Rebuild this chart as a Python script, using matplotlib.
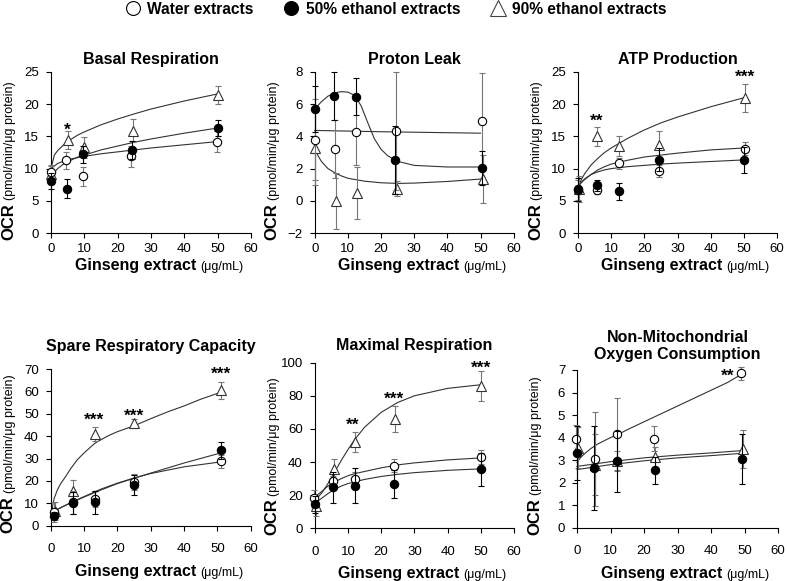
import matplotlib
matplotlib.use("Agg")
import matplotlib.pyplot as plt
from matplotlib.lines import Line2D

plt.rcParams["font.family"] = ["Liberation Sans", "DejaVu Sans"]

# ---- Basal Respiration ----
basal_water_x = [0, 4.6, 9.6, 24.1, 49.9]
basal_water_y = [9.4, 11.3, 8.8, 11.9, 14.2]
basal_water_err = [1.0, 1.3, 1.5, 1.6, 1.6]
basal_eth50_x = [0, 4.8, 9.6, 24.3, 50]
basal_eth50_y = [8.1, 6.9, 12.2, 12.9, 16.3]
basal_eth50_err = [1.2, 1.5, 1.3, 1.4, 1.3]
basal_eth90_x = [0, 5, 9.8, 24.5, 50]
basal_eth90_y = [9.1, 14.4, 13.3, 15.9, 21.5]
basal_eth90_err = [1.4, 1.4, 1.6, 1.8, 1.4]
basal_fit_x = [0, 1, 2, 4, 6, 8, 10, 15, 20, 25, 30, 40, 50]
basal_fit_water = [10.0, 10.4, 10.8, 11.2, 11.5, 11.7, 11.9, 12.3, 12.6, 12.9, 13.2, 13.7, 14.2]
basal_fit_eth50 = [8.5, 9.4, 10.0, 10.8, 11.3, 11.8, 12.1, 12.9, 13.5, 14.1, 14.6, 15.5, 16.3]
basal_fit_eth90 = [10.0, 12.1, 12.8, 13.8, 14.55, 15.2, 15.7, 16.8, 17.7, 18.5, 19.25, 20.5, 21.6]

# ---- Proton Leak ----
leak_water_x = [0, 6, 12.6, 24.5, 50.5]
leak_water_y = [3.8, 3.2, 4.3, 4.35, 4.95]
leak_water_err = [2.5, 1.8, 2.1, 3.65, 3.0]
leak_eth50_x = [0, 5.7, 12.6, 24.3, 50.5]
leak_eth50_y = [5.7, 6.5, 6.45, 2.55, 2.05]
leak_eth50_err = [1.4, 1.5, 1.15, 2.1, 1.05]
leak_eth90_x = [0, 6.3, 12.8, 24.8, 50.8]
leak_eth90_y = [3.3, 0.0, 0.5, 0.75, 1.35]
leak_eth90_err = [2.3, 1.75, 1.6, 0.45, 1.5]
leak_fit_water_x = [0, 10, 20, 30, 40, 50]
leak_fit_water = [4.37, 4.33, 4.29, 4.26, 4.23, 4.2]
leak_fit_eth50_x = [0, 2, 4, 6, 8, 10, 12, 14, 16, 18, 20, 22, 25, 30, 40, 50]
leak_fit_eth50 = [5.7, 6.15, 6.5, 6.7, 6.78, 6.75, 6.55, 5.9, 4.85, 3.85, 3.2, 2.8, 2.45, 2.2, 2.1, 2.1]
leak_fit_eth90_x = [0, 1, 2, 4, 6, 8, 10, 15, 20, 25, 30, 40, 50]
leak_fit_eth90 = [3.3, 2.8, 2.45, 2.0, 1.75, 1.55, 1.4, 1.22, 1.12, 1.08, 1.1, 1.2, 1.35]

# ---- ATP Production ----
atp_water_x = [0, 5.8, 12.5, 24.5, 50.5]
atp_water_y = [6.7, 6.6, 10.8, 9.6, 13.1]
atp_water_err = [1.5, 0.5, 0.9, 0.9, 1.0]
atp_eth50_x = [0, 5.8, 12.4, 24.3, 50.2]
atp_eth50_y = [6.8, 7.4, 6.5, 11.4, 11.3]
atp_eth50_err = [1.8, 0.9, 1.3, 1.8, 2.0]
atp_eth90_x = [0.3, 5.8, 12.5, 24.5, 50.5]
atp_eth90_y = [6.8, 15.0, 13.5, 13.6, 21.0]
atp_eth90_err = [2.0, 1.5, 1.6, 2.2, 2.2]
atp_fit_x = [0, 1, 2, 4, 6, 8, 10, 15, 20, 25, 30, 40, 50]
atp_fit_water = [7.2, 7.8, 8.3, 9.1, 9.8, 10.3, 10.7, 11.3, 11.8, 12.1, 12.4, 12.9, 13.2]
atp_fit_eth50 = [7.3, 7.9, 8.4, 9.1, 9.5, 9.8, 10.0, 10.3, 10.5, 10.7, 10.85, 11.1, 11.35]
atp_fit_eth90 = [7.0, 8.3, 9.2, 10.6, 11.6, 12.5, 13.2, 14.7, 16.0, 17.1, 18.0, 19.6, 21.0]

# ---- Spare Respiratory Capacity ----
spare_water_x = [1, 6.8, 13.3, 25, 51]
spare_water_y = [6.0, 10.4, 11.8, 19.6, 28.8]
spare_water_err = [4.5, 5.0, 3.5, 3.5, 3.0]
spare_eth50_x = [1, 6.8, 13.3, 25, 51]
spare_eth50_y = [4.5, 10.2, 10.4, 18.1, 33.6]
spare_eth50_err = [1.5, 4.8, 5.0, 4.5, 4.0]
spare_eth90_x = [1.3, 6.8, 13.3, 25, 51]
spare_eth90_y = [6.5, 15.7, 40.9, 45.8, 60.4]
spare_eth90_err = [4.0, 4.5, 3.0, 2.0, 4.0]
spare_fit_x = [1, 4, 7, 10, 15, 20, 25, 30, 40, 51]
spare_fit_water = [6.5, 8.8, 11.0, 13.0, 16.3, 19.0, 21.3, 23.3, 26.3, 28.5]
spare_fit_eth50 = [6.5, 8.8, 10.8, 12.8, 15.9, 18.8, 21.2, 23.5, 28.0, 32.5]
spare_fit_eth90_x = [0.3, 0.6, 1, 2, 3, 4.5, 6, 8, 10, 13.3, 17, 20, 25, 30, 35, 40, 45, 51]
spare_fit_eth90 = [5.7, 9.0, 12.0, 16.0, 18.8, 22.0, 25.5, 29.5, 32.5, 36.9, 40.0, 42.0,
                   44.6, 47.8, 50.8, 53.5, 56.5, 59.6]

# ---- Maximal Respiration ----
max_water_x = [-0.3, 5.5, 12, 24, 50]
max_water_y = [18.1, 28.8, 30.0, 37.8, 43.0]
max_water_err = [5, 3, 4, 4, 4]
max_eth50_x = [0, 5.5, 12, 24, 50]
max_eth50_y = [14.5, 24.7, 25.8, 26.8, 35.6]
max_eth50_err = [5, 9.5, 10.5, 8.7, 10]
max_eth90_x = [0.5, 5.7, 12.2, 24.2, 50]
max_eth90_y = [13.7, 35.6, 52.3, 66, 86.1]
max_eth90_err = [6, 6.5, 6, 8, 9]
max_fit_x = [0, 2, 4, 6, 8, 10, 12, 15, 20, 25, 30, 40, 50]
max_fit_water = [19, 22, 25.5, 28, 30, 31.7, 33, 34.3, 36.5, 38.3, 39.5, 41.3, 42.5]
max_fit_eth50 = [15, 18, 21, 23.5, 25.5, 27, 28, 29.5, 31.3, 32.6, 33.6, 35, 35.9]
max_fit_eth90 = [17, 21, 27, 34, 41, 47.5, 53.5, 61, 70, 76, 80, 84.5, 86.7]

# ---- Non-Mitochondrial Oxygen Consumption ----
nonmito_water_x = [-0.3, 5.4, 11.8, 23, 49]
nonmito_water_y = [3.95, 3.05, 4.14, 3.95, 6.85]
nonmito_water_err = [0.6, 2.1, 1.6, 0.55, 0.3]
nonmito_eth50_x = [0, 5, 11.8, 23.2, 49.2]
nonmito_eth50_y = [3.3, 2.65, 2.95, 2.55, 3.05]
nonmito_eth50_err = [1.2, 1.85, 1.35, 0.6, 1.1]
nonmito_eth90_x = [0.4, 5.5, 12, 23.2, 49.5]
nonmito_eth90_y = [3.55, 2.8, 2.95, 3.15, 3.5]
nonmito_eth90_err = [0.9, 1.35, 0.45, 0.45, 0.85]
nonmito_fit_water_x = [0, 1, 2, 4, 6, 8, 10, 12, 15, 20, 25, 30, 35, 40, 45, 49]
nonmito_fit_water = [2.9, 3.1, 3.25, 3.5, 3.7, 3.85, 4.0, 4.12, 4.35, 4.7, 5.05, 5.4, 5.75, 6.1, 6.45, 6.8]
nonmito_fit_x = [0, 10, 20, 30, 40, 49]
nonmito_fit_eth50 = [2.58, 2.8, 2.97, 3.1, 3.2, 3.3]
nonmito_fit_eth90 = [2.72, 2.93, 3.1, 3.22, 3.32, 3.42]

# significance marks: (text, x, y)
basal_stars = [("*", 4.8, 16.8), ("**", 50, 25.2)]
leak_stars = []
atp_stars = [("**", 5.5, 18.1), ("***", 50.5, 25.0)]
spare_stars = [("***", 13, 49.6), ("***", 25.1, 51.0), ("***", 51, 70.0)]
max_stars = [("**", 11.4, 65.4), ("***", 24, 80.9), ("***", 50, 100)]
nonmito_stars = [("**", 45, 6.97)]

W, H = 787, 581
fig = plt.figure(figsize=(W / 100, H / 100), dpi=100)

# axes boxes in pixels: left, top, right, bottom
boxes = [(51, 72, 251, 233), (314.7, 72, 513.7, 233), (578, 72, 777, 233),
         (50.7, 369, 250.7, 525.7), (314.7, 362.7, 514, 528.3), (577, 370, 778, 527.7)]

panels = [
    dict(title="Basal Respiration", ylim=(0, 25), step=5, pad=6, stars=basal_stars,
         water=(basal_water_x, basal_water_y, basal_water_err),
         eth50=(basal_eth50_x, basal_eth50_y, basal_eth50_err),
         eth90=(basal_eth90_x, basal_eth90_y, basal_eth90_err),
         fits=[(basal_fit_x, basal_fit_water), (basal_fit_x, basal_fit_eth50), (basal_fit_x, basal_fit_eth90)]),
    dict(title="Proton Leak", ylim=(-2, 8), step=2, pad=6, stars=leak_stars,
         water=(leak_water_x, leak_water_y, leak_water_err),
         eth50=(leak_eth50_x, leak_eth50_y, leak_eth50_err),
         eth90=(leak_eth90_x, leak_eth90_y, leak_eth90_err),
         fits=[(leak_fit_water_x, leak_fit_water), (leak_fit_eth50_x, leak_fit_eth50),
               (leak_fit_eth90_x, leak_fit_eth90)]),
    dict(title="ATP Production", ylim=(0, 25), step=5, pad=6, stars=atp_stars,
         water=(atp_water_x, atp_water_y, atp_water_err),
         eth50=(atp_eth50_x, atp_eth50_y, atp_eth50_err),
         eth90=(atp_eth90_x, atp_eth90_y, atp_eth90_err),
         fits=[(atp_fit_x, atp_fit_water), (atp_fit_x, atp_fit_eth50), (atp_fit_x, atp_fit_eth90)]),
    dict(title="Spare Respiratory Capacity", ylim=(0, 70), step=10, pad=13, stars=spare_stars,
         water=(spare_water_x, spare_water_y, spare_water_err),
         eth50=(spare_eth50_x, spare_eth50_y, spare_eth50_err),
         eth90=(spare_eth90_x, spare_eth90_y, spare_eth90_err),
         fits=[(spare_fit_x, spare_fit_water), (spare_fit_x, spare_fit_eth50),
               (spare_fit_eth90_x, spare_fit_eth90)]),
    dict(title="Maximal Respiration", ylim=(0, 100), step=20, pad=9, stars=max_stars,
         water=(max_water_x, max_water_y, max_water_err),
         eth50=(max_eth50_x, max_eth50_y, max_eth50_err),
         eth90=(max_eth90_x, max_eth90_y, max_eth90_err),
         fits=[(max_fit_x, max_fit_water), (max_fit_x, max_fit_eth50), (max_fit_x, max_fit_eth90)]),
    dict(title="Non-Mitochondrial\nOxygen Consumption", ylim=(0, 7), step=1, pad=8, stars=nonmito_stars,
         water=(nonmito_water_x, nonmito_water_y, nonmito_water_err),
         eth50=(nonmito_eth50_x, nonmito_eth50_y, nonmito_eth50_err),
         eth90=(nonmito_eth90_x, nonmito_eth90_y, nonmito_eth90_err),
         fits=[(nonmito_fit_water_x, nonmito_fit_water), (nonmito_fit_x, nonmito_fit_eth50),
               (nonmito_fit_x, nonmito_fit_eth90)]),
]

styles = {
    "eth90": dict(fmt="^", mfc="white", mec="#333333", ms=7, ecolor="#777777", zorder=3),
    "water": dict(fmt="o", mfc="white", mec="black", ms=6, ecolor="#777777", zorder=4),
    "eth50": dict(fmt="o", mfc="black", mec="black", ms=6, ecolor="black", zorder=5),
}

renderer = fig.canvas.get_renderer()

for i, (p, (l, t, r, b)) in enumerate(zip(panels, boxes)):
    ax = fig.add_axes([l / W, 1 - b / H, (r - l) / W, (b - t) / H])
    bottom_row = i >= 3

    for fx, fy in p["fits"]:
        ax.plot(fx, fy, color="#333333", lw=0.8, zorder=2, clip_on=False)
    for key in ["eth90", "water", "eth50"]:
        x, y, e = p[key]
        st = styles[key]
        ax.errorbar(x, y, yerr=e, fmt=st["fmt"], mfc=st["mfc"], mec=st["mec"], ms=st["ms"],
                    mew=0.8, ecolor=st["ecolor"], elinewidth=0.8, capsize=2.5, capthick=0.8,
                    linestyle="none", clip_on=False, zorder=st["zorder"])
    for s, sx, sy in p["stars"]:
        ax.annotate(s, (sx, sy), xytext=(0, -7), textcoords="offset points",
                    ha="center", va="baseline", fontsize=12.5, fontweight="bold")

    ax.set_xlim(0, 60)
    ax.set_ylim(*p["ylim"])
    ax.set_xticks(range(0, 61, 10))
    lo, hi = p["ylim"]
    ax.set_yticks(range(lo, hi + 1, p["step"]))
    for side in ["top", "right"]:
        ax.spines[side].set_visible(False)
    for side in ["left", "bottom"]:
        ax.spines[side].set_linewidth(0.8)
    ax.tick_params(direction="out", length=3.5, width=0.8, labelsize=9.5)
    ax.tick_params(axis="y", pad=5)
    ax.tick_params(axis="x", pad=9 if bottom_row else 3.5)
    ax.set_title(p["title"], fontsize=11.5, fontweight="bold", pad=p["pad"], linespacing=1.15)

    # y label: bold "OCR" followed by smaller units text
    yx = (l - 38) / W
    t1 = fig.text(yx, 1 - (b + 7) / H, "OCR", rotation=90, rotation_mode="anchor",
                  ha="left", va="baseline", fontsize=12, fontweight="bold")
    ext = t1.get_window_extent(renderer)
    fig.text(yx, (ext.y1 + 3) / H, "(pmol/min/\u03bcg protein)", rotation=90,
             rotation_mode="anchor", ha="left", va="baseline", fontsize=9)

    # x label: bold "Ginseng extract" followed by smaller units text
    base = b + (50 if bottom_row else 37)
    xa = fig.text(0, 1 - base / H, "Ginseng extract", ha="left", va="baseline",
                  fontsize=11.5, fontweight="bold")
    xb = fig.text(0, 1 - base / H, "(\u03bcg/mL)", ha="left", va="baseline", fontsize=9)
    wa = xa.get_window_extent(renderer).width
    wb = xb.get_window_extent(renderer).width
    start = (l + r) / 2 + 8 - (wa + 4 + wb) / 2
    xa.set_x(start / W)
    xb.set_x((start + wa + 4) / W)

handles = [
    Line2D([], [], marker="o", ls="none", mfc="white", mec="black", ms=10, mew=0.8),
    Line2D([], [], marker="o", ls="none", mfc="black", mec="black", ms=10, mew=0.8),
    Line2D([], [], marker="^", ls="none", mfc="white", mec="#444444", ms=11, mew=0.8),
]
labels = ["Water extracts", "50% ethanol extracts", "90% ethanol extracts"]
fig.legend(handles, labels, loc="center", bbox_to_anchor=(0.503, 1 - 9 / H), ncol=3,
           frameon=False, prop=dict(weight="bold", size=11.2), handlelength=1.0,
           handletextpad=0.45, columnspacing=1.9, borderpad=0)

fig.savefig("out.png", dpi=100)
